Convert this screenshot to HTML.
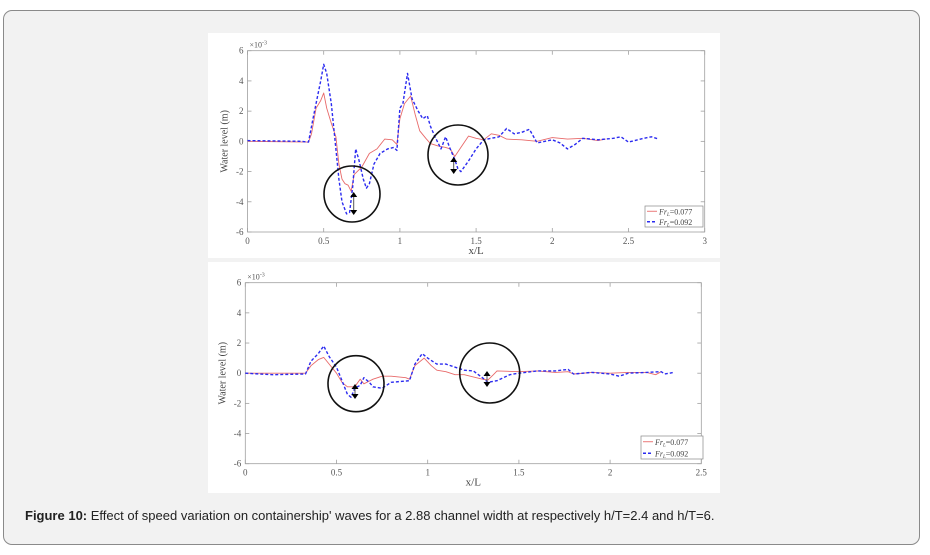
<!DOCTYPE html>
<html><head><meta charset="utf-8"><style>
html,body{margin:0;padding:0;background:#fff;}
body{width:930px;height:555px;position:relative;overflow:hidden;font-family:"Liberation Sans",sans-serif;}
#card{position:absolute;left:3px;top:10px;width:917px;height:535px;background:#f2f2f2;border:1px solid #8a8a8a;border-radius:9px;box-sizing:border-box;}
.panel{position:absolute;background:#fff;}
#cap{position:absolute;left:25px;top:508px;font-size:13px;color:#222;}
svg text{font-family:"Liberation Serif",serif;}
</style></head><body>
<div id="card"></div>
<div class="panel" style="left:208px;top:33px;width:512px;height:225px"></div>
<div class="panel" style="left:208px;top:262px;width:512px;height:231px"></div>
<svg id="svg" width="930" height="555" style="position:absolute;left:0;top:0"></svg>
<div id="cap"><b>Figure 10:</b> Effect of speed variation on containership' waves for a 2.88 channel width at respectively h/T=2.4 and h/T=6.</div>
<script>
// Top chart data
const topRedX=[0,0.4,0.42,0.45,0.48,0.5,0.52,0.55,0.58,0.6,0.62,0.64,0.66,0.68,0.7,0.72,0.75,0.8,0.85,0.9,0.95,0.98,1.0,1.03,1.07,1.1,1.13,1.17,1.2,1.25,1.3,1.33,1.36,1.4,1.45,1.5,1.55,1.6,1.65,1.7,1.8,1.9,2.0,2.1,2.2,2.3,2.35];
const topRedY=[0,-0.05,0.5,2.2,2.7,3.2,2.2,1.2,0.3,-1.5,-2.5,-2.8,-2.9,-3.3,-2.2,-2.0,-1.7,-0.8,-0.5,0.15,0.1,-0.2,1.5,2.5,3.0,1.8,0.7,0.2,-0.15,-0.3,-0.4,-0.5,-1.0,-0.4,0.35,0.2,0.1,0.5,0.4,0.15,0.1,0,0.25,0.15,0.2,0.05,0.15];
const topBlueX=[0,0.35,0.4,0.43,0.46,0.48,0.5,0.52,0.55,0.58,0.6,0.62,0.65,0.67,0.69,0.71,0.73,0.76,0.78,0.8,0.83,0.87,0.92,0.96,0.98,1.0,1.02,1.05,1.08,1.12,1.15,1.18,1.2,1.23,1.27,1.3,1.33,1.36,1.38,1.4,1.45,1.5,1.55,1.6,1.65,1.7,1.75,1.8,1.85,1.9,2.0,2.05,2.1,2.15,2.2,2.3,2.4,2.45,2.5,2.6,2.65,2.7];
const topBlueY=[0.05,0,-0.05,1.5,3.0,4.0,5.1,4.5,2.5,-0.5,-2.5,-4.0,-4.8,-4.7,-3.0,-0.5,-1.2,-2.5,-3.1,-2.8,-1.5,-0.8,-0.5,-0.4,-0.6,2.2,2.5,4.5,2.8,2.0,1.5,1.7,1.0,0.3,-0.5,0.3,-0.5,-1.2,-1.8,-2.0,-1.3,-0.5,0.1,0.2,0.3,0.85,0.5,0.6,0.8,-0.1,0.1,-0.1,-0.5,-0.2,0.2,0.1,0.2,0.3,-0.05,0.2,0.3,0.15];
const topXTicks=[0,0.5,1,1.5,2,2.5,3];
// Bottom chart data
const botRedX=[0,0.33,0.36,0.4,0.43,0.46,0.5,0.53,0.56,0.6,0.63,0.65,0.7,0.75,0.8,0.88,0.9,0.93,0.98,1.02,1.05,1.1,1.15,1.2,1.3,1.33,1.36,1.38,1.5,1.6,1.7,1.77,1.8,1.9,2.0,2.1,2.2,2.25,2.28];
const botRedY=[0,0,0.5,0.9,1.05,0.6,0,-0.6,-0.9,-0.9,-0.4,-0.7,-0.4,-0.2,-0.2,-0.3,-0.4,0.5,1.0,0.5,0.2,0.1,-0.1,-0.1,-0.4,-0.45,-0.1,0.15,0.1,0.15,0.05,0.1,-0.05,0.05,0,0.05,0.05,-0.1,0.1];
const botBlueX=[0,0.15,0.33,0.36,0.4,0.43,0.46,0.5,0.53,0.56,0.58,0.6,0.63,0.65,0.68,0.7,0.75,0.8,0.9,0.93,0.97,1.0,1.05,1.1,1.15,1.2,1.25,1.3,1.33,1.38,1.45,1.5,1.6,1.7,1.77,1.8,1.9,2.0,2.05,2.1,2.2,2.28,2.3,2.35];
const botBlueY=[0,-0.1,-0.05,0.8,1.3,1.8,1.1,0.4,-0.5,-1.4,-1.6,-1.0,-0.8,-0.3,-0.6,-0.9,-1.0,-0.6,-0.5,0.6,1.3,1.0,0.6,0.6,0.4,0.2,0.15,-0.3,-0.6,-0.5,-0.1,0,0.15,0.15,0.25,-0.05,0.05,-0.05,-0.2,0,0.05,0.1,-0.05,0.05];
const botXTicks=[0,0.5,1,1.5,2,2.5];
const yTicks=[-6,-4,-2,0,2,4,6];
const tickLabelsY=['-6','-4','-2','0','2','4','6'];

const NS='http://www.w3.org/2000/svg';
const svg=document.getElementById('svg');
function mk(tag,attrs,parent){const e=document.createElementNS(NS,tag);for(const k in attrs)e.setAttribute(k,attrs[k]);(parent||svg).appendChild(e);return e;}

function chart(cfg){
  const g=mk('g',{});
  
  
  const sx=v=>cfg.x0+(v-cfg.xmin)/(cfg.xmax-cfg.xmin)*(cfg.x1-cfg.x0);
  const sy=v=>cfg.y1-(v+6)/12*(cfg.y1-cfg.y0);
  const box=mk('rect',{x:cfg.x0,y:cfg.y0,width:cfg.x1-cfg.x0,height:cfg.y1-cfg.y0,fill:'none',stroke:'#a0a0a0','stroke-width':0.8},g);
  
  cfg.xt.forEach(t=>{
    const X=sx(t);
    mk('line',{x1:X,x2:X,y1:cfg.y1,y2:cfg.y1-4,stroke:'#a0a0a0','stroke-width':0.8},g);
    mk('line',{x1:X,x2:X,y1:cfg.y0,y2:cfg.y0+4,stroke:'#a0a0a0','stroke-width':0.8},g);
    const tx=mk('text',{x:X,y:cfg.y1+12,'font-size':9,fill:'#555','text-anchor':'middle'},g);
    tx.textContent=String(t);
    
  });
  yTicks.forEach((t,i)=>{
    const Y=sy(t);
    mk('line',{x1:cfg.x0,x2:cfg.x0+4,y1:Y,y2:Y,stroke:'#a0a0a0','stroke-width':0.8},g);
    mk('line',{x1:cfg.x1,x2:cfg.x1-4,y1:Y,y2:Y,stroke:'#a0a0a0','stroke-width':0.8},g);
    const tx=mk('text',{x:cfg.x0-4,y:Y+3,'font-size':9,fill:'#555','text-anchor':'end'},g);
    tx.textContent=tickLabelsY[i];
    
  });
  const ex=mk('text',{x:cfg.x0+2,y:cfg.y0-3,'font-size':8,fill:'#555'},g);
  ex.innerHTML='×10<tspan dy="-3" font-size="6">-3</tspan>';
  
  const xl=mk('text',{x:(cfg.x0+cfg.x1)/2,y:cfg.y1+22,'font-size':11,fill:'#444','text-anchor':'middle'},g);
  xl.textContent='x/L';
  
  const cy=(cfg.y0+cfg.y1)/2, lx=cfg.x0-20;
  const yl=mk('text',{x:lx,y:cy,'font-size':10,fill:'#444','text-anchor':'middle',transform:`rotate(-90 ${lx} ${cy})`},g);
  yl.textContent='Water level (m)';
  
  const line=(xs,ys,col,dash,w,name)=>{
    const p=mk('polyline',{points:xs.map((x,i)=>sx(x).toFixed(1)+','+sy(ys[i]).toFixed(1)).join(' '),fill:'none',stroke:col,'stroke-width':w,'stroke-dasharray':dash,'stroke-linejoin':'round'},g);
    
  };
  line(cfg.rx,cfg.ry,'#e86a6a','none',0.9,'series-fr-0077');
  line(cfg.bx,cfg.by,'#2b2bf0','3 2',1.4,'series-fr-0092');
  cfg.circles.forEach(c=>{
    const ci=mk('circle',{cx:c[0],cy:c[1],r:c[2],fill:'none',stroke:'#111','stroke-width':1.6},g);
    
  });
  cfg.arrows.forEach(a=>{
    const ag=mk('g',{},g);
    
    mk('line',{x1:a[0],x2:a[0],y1:a[1]+3,y2:a[2]-3,stroke:'#555','stroke-width':1},ag);
    mk('polygon',{points:`${a[0]-3.5},${a[1]+5} ${a[0]+3.5},${a[1]+5} ${a[0]},${a[1]}`,fill:'#000'},ag);
    mk('polygon',{points:`${a[0]-3.5},${a[2]-5} ${a[0]+3.5},${a[2]-5} ${a[0]},${a[2]}`,fill:'#000'},ag);
  });
  const L=cfg.leg;
  const lg=mk('g',{},g);
  
  mk('rect',{x:L[0],y:L[1],width:L[2],height:L[3],fill:'#fff',stroke:'#888','stroke-width':0.7},lg);
  const rowH=L[3]/2;
  [['#e86a6a','none',0.9,'0.077'],['#2b2bf0','3 2',1.4,'0.092']].forEach((r,i)=>{
    const yy=L[1]+rowH*(i+0.5);
    mk('line',{x1:L[0]+2,x2:L[0]+12,y1:yy,y2:yy,stroke:r[0],'stroke-width':r[2],'stroke-dasharray':r[1]},lg);
    const t=mk('text',{x:L[0]+14,y:yy+3,'font-size':8,fill:'#444'},lg);
    t.innerHTML='<tspan font-style="italic">Fr</tspan><tspan font-size="5" dy="1.5" font-style="italic">L</tspan><tspan dy="-1.5">=' + r[3] + '</tspan>';
    
  });
}
chart({name:'top-chart',x0:247.5,x1:704.7,y0:50.7,y1:232,xmin:0,xmax:3,xt:topXTicks,rx:topRedX,ry:topRedY,bx:topBlueX,by:topBlueY,
  circles:[[352,194,28],[458,155,30]],arrows:[[353.7,192,215],[453.7,157,174]],leg:[645,206,58,21]});
chart({name:'bottom-chart',x0:245.3,x1:701.3,y0:282.7,y1:463.7,xmin:0,xmax:2.5,xt:botXTicks,rx:botRedX,ry:botRedY,bx:botBlueX,by:botBlueY,
  circles:[[356,383.7,28],[489.7,373,30]],arrows:[[355,384,399],[487,371,387]],leg:[641,436,62,23]});
</script>
</body></html>
